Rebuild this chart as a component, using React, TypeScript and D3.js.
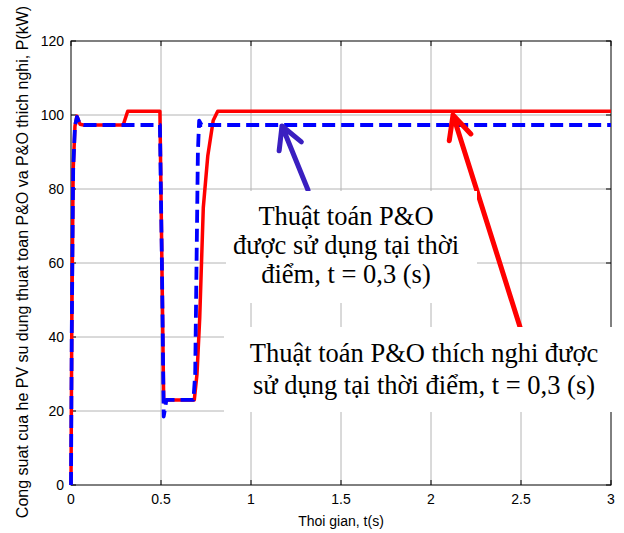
import React from "react";
import * as d3 from "d3";

// Adaptive P&O (red, solid)
const timeAdaptive = [0, 0.004, 0.012, 0.022, 0.033, 0.05, 0.07, 0.29, 0.315, 0.494, 0.505, 0.515, 0.53, 0.685, 0.7, 0.715, 0.735, 0.76, 0.79, 0.815, 3];
const powerAdaptive = [0, 40, 85, 97, 99.7, 97.5, 97.3, 97.3, 101, 101, 60, 22.5, 23, 23, 30, 45, 75, 89, 98.5, 101, 101];

// Conventional P&O (blue, dashed)
const timePO = [0, 0.004, 0.012, 0.022, 0.033, 0.05, 0.07, 0.494, 0.505, 0.515, 0.53, 0.68, 0.69, 0.705, 0.712, 0.725, 3];
const powerPO = [0, 40, 85, 97, 99.5, 97.5, 97.3, 97.3, 60, 18.5, 23, 23, 30, 90, 98.5, 97.3, 97.3];

const xTicks = [0, 0.5, 1, 1.5, 2, 2.5, 3];
const yTicks = [0, 20, 40, 60, 80, 100, 120];

const noteTop = ["Thuật toán P&O", "được sử dụng tại thời", "điểm, t = 0,3 (s)"];
const noteBottom = ["Thuật toán P&O thích nghi được", "sử dụng tại thời điểm, t = 0,3 (s)"];

const W = 624;
const H = 533;
const left = 71;
const right = 611;
const top = 41;
const bottom = 485;

const sans = "'Liberation Sans', Arial, Helvetica, sans-serif";
const serif = "'Liberation Serif', 'Times New Roman', serif";

function arrowPath(tip: [number, number], tail: [number, number], headLen: number, spread: number) {
  const ang = Math.atan2(tail[1] - tip[1], tail[0] - tip[0]);
  const a1 = ang + spread;
  const a2 = ang - spread;
  const p1: [number, number] = [tip[0] + headLen * Math.cos(a1), tip[1] + headLen * Math.sin(a1)];
  const p2: [number, number] = [tip[0] + headLen * Math.cos(a2), tip[1] + headLen * Math.sin(a2)];
  return `M${tail[0]},${tail[1]}L${tip[0]},${tip[1]}M${p1[0]},${p1[1]}L${tip[0]},${tip[1]}L${p2[0]},${p2[1]}`;
}

export default function App() {
  const x = d3.scaleLinear().domain([0, 3]).range([left, right]);
  const y = d3.scaleLinear().domain([0, 120]).range([bottom, top]);

  const line = d3
    .line<[number, number]>()
    .x((d) => x(d[0]))
    .y((d) => y(d[1]));

  const adaptive = line(timeAdaptive.map((t, i) => [t, powerAdaptive[i]] as [number, number])) || "";
  const po = line(timePO.map((t, i) => [t, powerPO[i]] as [number, number])) || "";

  const tick = 5;

  return (
    <svg
      width={W}
      height={H}
      style={{ position: "absolute", left: 0, top: 0, background: "#fff" }}
    >
      <rect x={0} y={0} width={W} height={H} fill="#fff" />

      {/* grid */}
      <g stroke="#b4b4b4" strokeWidth={1}>
        {xTicks.slice(1, -1).map((t) => (
          <line key={"gx" + t} x1={x(t)} x2={x(t)} y1={top} y2={bottom} />
        ))}
        {yTicks.slice(1, -1).map((v) => (
          <line key={"gy" + v} x1={left} x2={right} y1={y(v)} y2={y(v)} />
        ))}
      </g>

      {/* axes box and inward ticks */}
      <g stroke="#000" strokeWidth={1} fill="none">
        <rect x={left} y={top} width={right - left} height={bottom - top} />
        {xTicks.map((t) => (
          <g key={"tx" + t}>
            <line x1={x(t)} x2={x(t)} y1={bottom} y2={bottom - tick} />
            <line x1={x(t)} x2={x(t)} y1={top} y2={top + tick} />
          </g>
        ))}
        {yTicks.map((v) => (
          <g key={"ty" + v}>
            <line x1={left} x2={left + tick} y1={y(v)} y2={y(v)} />
            <line x1={right} x2={right - tick} y1={y(v)} y2={y(v)} />
          </g>
        ))}
      </g>

      {/* tick labels */}
      <g fontFamily={sans} fontSize={14} fill="#000">
        {xTicks.map((t) => (
          <text key={"lx" + t} x={x(t)} y={bottom + 19} textAnchor="middle">
            {String(t)}
          </text>
        ))}
        {yTicks.map((v) => (
          <text key={"ly" + v} x={left - 7} y={y(v) + 5} textAnchor="end">
            {String(v)}
          </text>
        ))}
      </g>

      {/* axis titles */}
      <text x={x(1.5)} y={526} textAnchor="middle" fontFamily={sans} fontSize={14}>
        Thoi gian, t(s)
      </text>
      <text
        transform={`translate(28, 262) rotate(-90)`}
        textAnchor="middle"
        fontFamily={sans}
        fontSize={16}
      >
        Cong suat cua he PV su dung thuat toan P&amp;O va P&amp;O thich nghi, P(kW)
      </text>

      {/* power curves */}
      <path d={adaptive} fill="none" stroke="#ff0000" strokeWidth={3.5} strokeLinejoin="round" />
      <path d={po} fill="none" stroke="#0000ff" strokeWidth={3.8} strokeDasharray="13,6" strokeLinejoin="round" />

      {/* arrows */}
      <path
        d={arrowPath([282, 126], [308, 190], 25, 0.5)}
        fill="none"
        stroke="#3a1fc0"
        strokeWidth={5}
        strokeLinecap="round"
        strokeLinejoin="round"
      />
      <path
        d={arrowPath([453, 115], [520, 327], 26, 0.45)}
        fill="none"
        stroke="#ff0000"
        strokeWidth={5}
        strokeLinecap="round"
        strokeLinejoin="round"
      />

      {/* annotation boxes */}
      <rect x={226} y={191} width={251} height={112} fill="#fff" />
      <g fontFamily={serif} fontSize={26.5} fill="#000" textAnchor="middle">
        {noteTop.map((s, i) => (
          <text key={"nt" + i} x={346} y={225 + i * 29}>
            {s}
          </text>
        ))}
      </g>
      <rect x={224} y={327} width={392} height={85} fill="#fff" />
      <g fontFamily={serif} fontSize={26.5} fill="#000" textAnchor="middle">
        {noteBottom.map((s, i) => (
          <text key={"nb" + i} x={424} y={362 + i * 32}>
            {s}
          </text>
        ))}
      </g>
    </svg>
  );
}
